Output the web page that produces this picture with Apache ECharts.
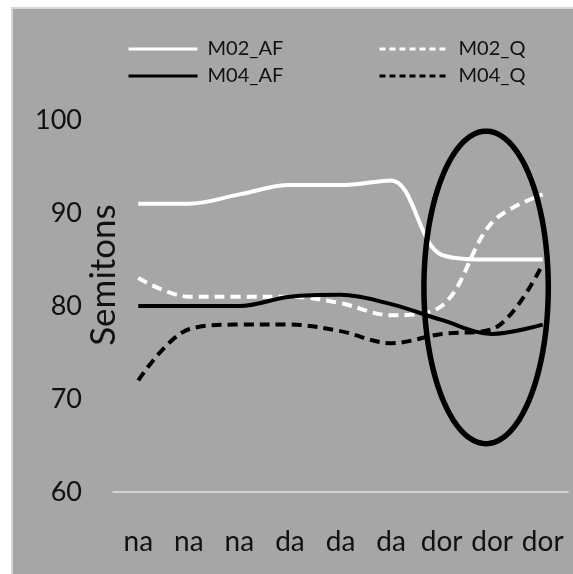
<!DOCTYPE html>
<html>
<head>
<meta charset="utf-8">
<script src="https://cdn.jsdelivr.net/npm/echarts@6/dist/echarts.min.js"></script>
<style>
  html, body { margin: 0; padding: 0; background: #ffffff; }
  #chart {
    position: absolute; left: 11px; top: 7px;
    width: 560px; height: 565px;
    border-left: 2px solid #d6d6d6; border-top: 2px solid #d6d6d6;
    background: #a6a6a6;
  }
</style>
</head>
<body>
<div id="chart"></div>
<script>
// Syllables along the melody
const categories = ['na', 'na', 'na', 'da', 'da', 'da', 'dor', 'dor', 'dor'];

// Pitch per syllable, in semitones
const m02AF = [91, 91, 92, 93, 93, 93.5, 85.5, 85, 85];
const m02Q  = [83, 81, 81, 81, 80.3, 79, 80, 89, 92];
const m04AF = [80, 80, 80, 81, 81.2, 80.2, 78.5, 77, 78];
const m04Q  = [72, 77.5, 78, 78, 77.3, 76, 77, 77.5, 84.5];

// Value axis ticks
const yTicks = [60, 70, 80, 90, 100];

// Highlight ring around the final syllables:
// centre (category position, semitones) and half-extent (categories, semitones)
const ellipseCenter = [6.88, 82];
const ellipseRadius = [1.23, 16.8];

const FONT = 'Lato';

const chart = echarts.init(document.getElementById('chart'), null, { renderer: 'canvas' });

function lineSeries(name, data, color, dashed) {
  return {
    name: name,
    type: 'line',
    data: data,
    smooth: 0.35,
    symbol: 'none',
    lineStyle: { color: color, width: 4, type: dashed ? [10, 6] : 'solid', cap: 'butt' },
    itemStyle: { color: color },
    z: 3
  };
}

function legendAt(name, dashed, left, top) {
  return {
    data: [name],
    left: left, top: top,
    orient: 'horizontal',
    itemWidth: 69, itemHeight: 14,
    itemStyle: { opacity: 0 },
    lineStyle: { width: 3, type: dashed ? [6, 4] : 'solid' },
    textStyle: { fontFamily: FONT, fontSize: 20, color: '#111', padding: [0, 0, 0, 5] },
    selectedMode: false
  };
}

chart.setOption({
  animation: false,
  backgroundColor: 'transparent',
  legend: [
    legendAt('M02_AF', false, 109, 25),
    legendAt('M02_Q', true, 360, 25),
    legendAt('M04_AF', false, 109, 52),
    legendAt('M04_Q', true, 360, 52)
  ],
  grid: { left: 100, right: 5, top: 111, bottom: 82, containLabel: false },
  xAxis: {
    type: 'category',
    data: categories,
    boundaryGap: true,
    axisLine: { show: true, lineStyle: { color: '#e4e4e4', width: 1.5 } },
    axisTick: { show: false },
    splitLine: { show: false },
    axisLabel: {
      fontFamily: FONT, fontSize: 28, color: '#111',
      margin: 36, interval: 0, lineHeight: 28
    }
  },
  yAxis: {
    type: 'value',
    min: yTicks[0],
    max: yTicks[yTicks.length - 1],
    interval: yTicks[1] - yTicks[0],
    axisLine: { show: false },
    axisTick: { show: false },
    splitLine: { show: false },
    axisLabel: { fontFamily: FONT, fontSize: 27, color: '#111', margin: 31 }
  },
  graphic: [{
    type: 'text',
    rotation: Math.PI / 2,
    x: 91, y: 266,
    style: {
      text: 'Semitons',
      fontFamily: FONT, fontSize: 35, fill: '#111',
      align: 'center', verticalAlign: 'middle'
    }
  }],
  series: [
    lineSeries('M02_AF', m02AF, '#ffffff', false),
    lineSeries('M02_Q', m02Q, '#ffffff', true),
    lineSeries('M04_AF', m04AF, '#000000', false),
    lineSeries('M04_Q', m04Q, '#000000', true),
    {
      name: 'ring',
      type: 'custom',
      silent: true,
      clip: false,
      z: 5,
      data: [[Math.round(ellipseCenter[0]), ellipseCenter[1]]],
      renderItem: function (params, api) {
        const base = Math.floor(ellipseCenter[0]);
        const a = api.coord([base, ellipseCenter[1]]);
        const b = api.coord([base + 1, ellipseCenter[1]]);
        const step = b[0] - a[0];
        const cx = a[0] + (ellipseCenter[0] - base) * step;
        const cy = a[1];
        const rx = ellipseRadius[0] * step;
        const ry = api.size([0, ellipseRadius[1]])[1];
        const pts = [];
        for (let i = 0; i < 180; i++) {
          const t = (i / 180) * Math.PI * 2;
          pts.push([cx + rx * Math.cos(t), cy + ry * Math.sin(t)]);
        }
        return {
          type: 'polygon',
          shape: { points: pts },
          style: { fill: 'none', stroke: '#000', lineWidth: 5.5 }
        };
      }
    }
  ]
});
</script>
</body>
</html>
